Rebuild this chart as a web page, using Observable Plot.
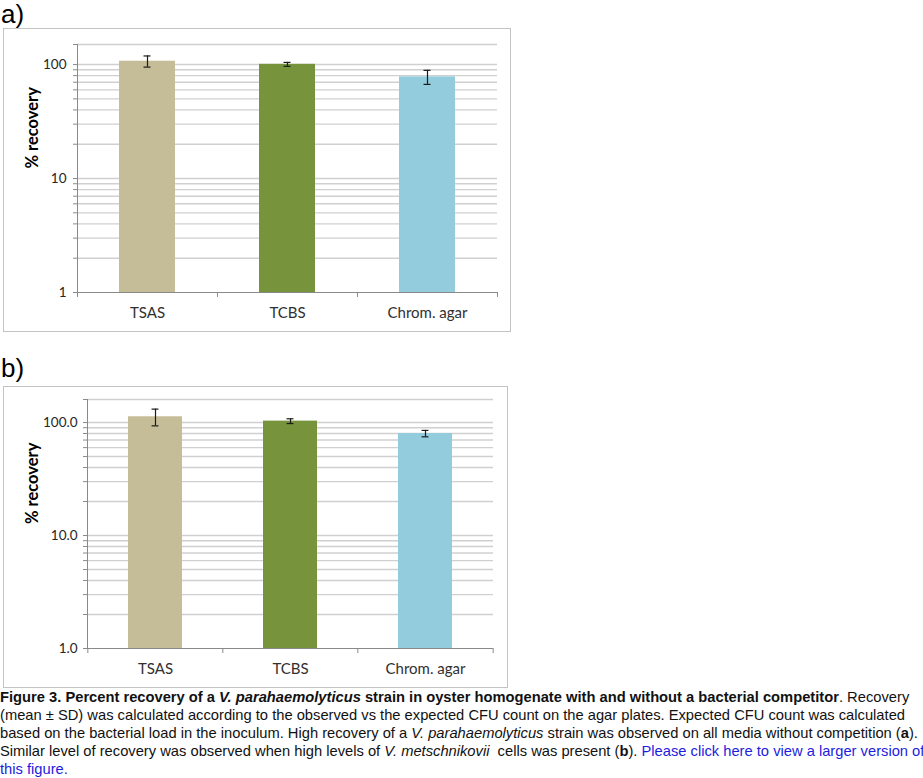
<!DOCTYPE html>
<html><head><meta charset="utf-8">
<script src="https://cdn.jsdelivr.net/npm/d3@7"></script>
<script src="https://cdn.jsdelivr.net/npm/@observablehq/plot@0.6"></script>
<style>
body{margin:0;background:#fff;width:923px;height:778px;position:relative;overflow:hidden;font-family:"Liberation Sans",Arial,sans-serif;}
.lbl{position:absolute;left:1px;font-size:26px;line-height:26px;color:#000;}
.box{position:absolute;left:3px;border:1.5px solid #c4c4c4;box-sizing:border-box;background:#fff}
.box svg{display:block}
#cap{position:absolute;left:0;top:688px;font-size:15px;line-height:18px;white-space:nowrap;color:#111;transform-origin:0 0}
#cap a{color:#1c1ce0;text-decoration:none}
</style></head><body>
<div class="lbl" style="top:1px">a)</div>
<div id="boxA" class="box" style="top:28px;width:508px;height:304px"></div>
<div class="lbl" style="top:355px">b)</div>
<div id="boxB" class="box" style="top:386px;width:505px;height:302px"></div>
<div id="cap"><b>Figure 3. Percent recovery of a <i>V. parahaemolyticus</i> strain in oyster homogenate with and without a bacterial competitor</b>. Recovery<br><span id="l2">(mean ± SD) was calculated according to the observed vs the expected CFU count on the agar plates. Expected CFU count was calculated</span><br>based on the bacterial load in the inoculum. High recovery of a <i>V. parahaemolyticus</i> strain was observed on all media without competition (<b>a</b>).<br>Similar level of recovery was observed when high levels of <i>V. metschnikovii</i>&nbsp; cells was present (<b>b</b>). <a href="#">Please click here to view a larger version of<br>this figure.</a></div>
<script>
const media = ["TSAS", "TCBS", "Chrom. agar"];
const barColors = ["#C4BD97", "#77933C", "#93CDDD"];
// panel a: without competitor
const meanA = [107, 100.5, 78];
const sdA = [12, 4, 11];
// panel b: with V. metschnikovii
const meanB = [112.5, 103, 80];
const sdB = [19, 5, 5.2];
const majorTicks = [1, 10, 100];
const tickLabelsA = ["1", "10", "100"];
const tickLabelsB = ["1.0", "10.0", "100.0"];
const minorTicks = [2, 3, 4, 5, 6, 7, 8, 9, 20, 30, 40, 50, 60, 70, 80, 90];
const yMaxA = 150;
const yMaxB = 160;
const yTitle = "% recovery";

function panel(el, mean, sd, labels, yMax, o) {
  const data = media.map((m, i) => ({medium: m, mean: mean[i], lo: mean[i] - sd[i], hi: mean[i] + sd[i]}));
  const plotW = o.width - o.ml - o.mr;
  const step = plotW / media.length;
  const bw = step * 0.4;
  const capInset = (bw - 7) / 2;
  const axisGray = "#8a8a8a";
  const eb = {stroke: "#1a1a1a", strokeWidth: 1.2};
  const chart = Plot.plot({
    width: o.width, height: o.height,
    marginLeft: o.ml, marginRight: o.mr, marginTop: o.mt, marginBottom: o.mb,
    style: {fontFamily: "Lato, 'Open Sans', sans-serif", background: "transparent", overflow: "visible"},
    x: {domain: media, paddingInner: 0.6, paddingOuter: 0.3},
    y: {type: "log", domain: [1, yMax]},
    color: {domain: media, range: barColors},
    marks: [
      Plot.gridY([...minorTicks, ...majorTicks.slice(1), yMax], {stroke: "#d0d0d0", strokeOpacity: 1, strokeWidth: 1.4}),
      Plot.barY(data, {x: "medium", y1: 1, y2: "mean", fill: "medium"}),
      Plot.ruleX(data, {x: "medium", y1: "lo", y2: "hi", ...eb}),
      Plot.tickY(data, {x: "medium", y: "lo", insetLeft: capInset, insetRight: capInset, ...eb}),
      Plot.tickY(data, {x: "medium", y: "hi", insetLeft: capInset, insetRight: capInset, ...eb}),
      Plot.axisY([...minorTicks, yMax], {tickSize: 4, tickFormat: () => "", stroke: axisGray, label: null}),
      Plot.axisY(majorTicks, {tickSize: 4, tickPadding: o.tp, tickFormat: d => labels[majorTicks.indexOf(d)], fontSize: 13.5, fill: "#262626", stroke: axisGray, label: null}),
      Plot.frame({anchor: "left", stroke: axisGray}),
      Plot.ruleY([1], {stroke: axisGray}),
      Plot.axisX(media, {tickSize: 5, tickFormat: () => "", dx: -step / 2, stroke: axisGray, label: null}),
      Plot.axisX([media[media.length - 1]], {tickSize: 5, tickFormat: () => "", dx: step / 2, stroke: axisGray, label: null}),
      Plot.axisX({tickSize: 0, tickPadding: 15, fontSize: 15, fill: "#303030", label: null}),
      Plot.text([yTitle], {frameAnchor: "left", rotate: -90, dx: -o.titleOff, fontWeight: "bold", fontSize: 16.5, fill: "#000", text: d => d})
    ]
  });
  document.getElementById(el).appendChild(chart);
}

panel("boxA", meanA, sdA, tickLabelsA, yMaxA, {width: 505, height: 301, ml: 73, mr: 12, mt: 15, mb: 38, tp: 7, titleOff: 45});
panel("boxB", meanB, sdB, tickLabelsB, yMaxB, {width: 502, height: 299, ml: 83, mr: 13, mt: 12, mb: 38, tp: 6, titleOff: 55});

// fit caption to the reference line width
const cap = document.getElementById("cap");
const w = document.getElementById("l2").getBoundingClientRect().width;
cap.style.transform = `scaleX(${905 / w})`;
</script>
</body></html>
